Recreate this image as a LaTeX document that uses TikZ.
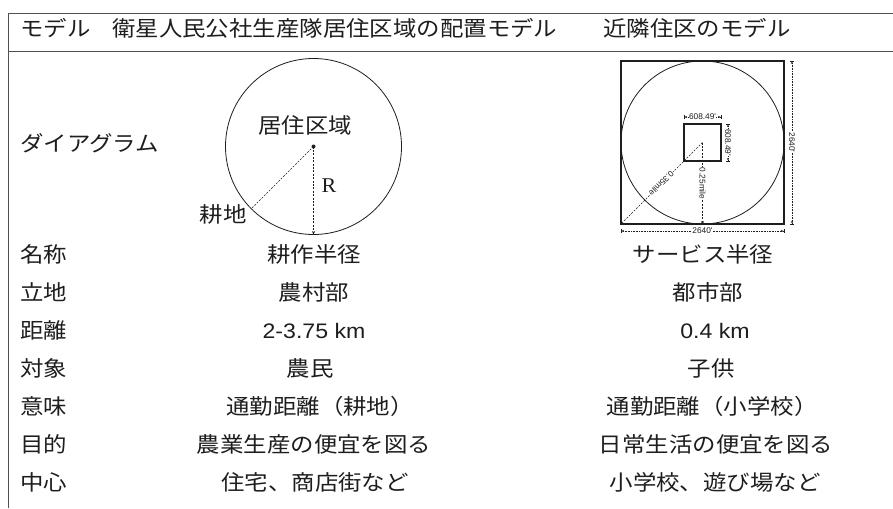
\documentclass[tikz,border=0pt]{standalone}
\usepackage{fontspec}
\usepackage{graphicx}
\setmainfont{Noto Sans CJK JP}[FakeStretch=1.1]
\newfontfamily\latinsans{Liberation Sans}[FakeStretch=1.1]
\newfontfamily\latinserif{Liberation Serif}[FakeStretch=1.05]
\newfontfamily\dimfont{Liberation Sans}
\usetikzlibrary{arrows.meta}
\definecolor{ink}{HTML}{1E1E1E}
\definecolor{rulec}{HTML}{505050}
\begin{document}
\begin{tikzpicture}[x=1pt,y=-1pt,
  txt/.style={inner sep=0pt, text height=0.88em, text depth=0.12em,
              font=\fontsize{21.3}{24}\selectfont, text=ink},
  lab/.style={txt, anchor=west},
  val/.style={txt, anchor=center},
  num/.style={txt, font=\fontsize{21}{24}\selectfont\latinsans},
  outl/.style={draw=ink, line width=0.8pt},
  dsh/.style={draw=ink, line width=0.6pt, dash pattern=on 2pt off 1.4pt},
  dimline/.style={draw=ink, line width=0.5pt, dash pattern=on 0.8pt off 0.8pt,
     {Bar[width=4pt]Stealth[length=2.6pt,width=2.2pt]}-{Stealth[length=2.6pt,width=2.2pt]Bar[width=4pt]}},
  dimlab/.style={fill=white, inner sep=0.5pt, font=\fontsize{8.3}{9}\dimfont, text=ink},
  tip/.style={-{Stealth[length=3.5pt,width=3pt]}}
]
\useasboundingbox (0,0) rectangle (893,508);
\fill[white] (0,0) rectangle (893,508);

% table rules
\draw[rulec, line width=1pt] (8,14) -- (893,14);
\draw[rulec, line width=1pt] (8,14) -- (8,508);
\draw[rulec, line width=1.8pt] (8,51.5) -- (893,51.5);

% header
\node[lab] (h1) at (20,33) {モデル};
\node[lab] (h2) at (112,33) {衛星人民公社生産隊居住区域の配置モデル};
\node[lab] (h3) at (603,33) {近隣住区のモデル};

% row labels
\node[lab] (r0) at (20,148) {ダイアグラム};
\node[lab] (r1) at (20,259) {名称};
\node[lab] (r2) at (20,297) {立地};
\node[lab] (r3) at (20,335) {距離};
\node[lab] (r4) at (20,373) {対象};
\node[lab] (r5) at (20,411) {意味};
\node[lab] (r6) at (20,449) {目的};
\node[lab] (r7) at (20,487) {中心};

% left column values
\node[val] (a1) at (314,259) {耕作半径};
\node[val] (a2) at (314,297) {農村部};
\node[num] (a3) at (314,335) {2-3.75 km};
\node[val] (a4) at (310,373) {農民};
\node[val] (a5) at (320,411) {通勤距離（耕地）};
\node[val] (a6) at (314,449) {農業生産の便宜を図る};
\node[val] (a7) at (315,487) {住宅、商店街など};

% right column values
\node[val] (b1) at (703,259) {サービス半径};
\node[val] (b2) at (708,297) {都市部};
\node[num] (b3) at (715,335) {0.4 km};
\node[val] (b4) at (711,373) {子供};
\node[val] (b5) at (712,411) {通勤距離（小学校）};
\node[val] (b6) at (716,449) {日常生活の便宜を図る};
\node[val] (b7) at (715,487) {小学校、遊び場など};

% left diagram
\coordinate (lc) at (313.5,146.5);
\coordinate (lbot) at (313.5,234.5);
\coordinate (lfield) at (251.3,208.7);
\draw[outl] (lc) circle[radius=88];
\fill[ink] (lc) circle[radius=2];
\draw[dsh] (lc) -- (lfield);
\draw[dsh, tip] (lc) -- (lbot);
\node[val] (kyoju) at (305,130) {居住区域};
\node[val] (kochi) at (223,219) {耕地};
\node[txt, font=\fontsize{21}{24}\latinserif] (R) at (329,189) {R};

% right diagram
\coordinate (rc) at (702.5,142.5);
\node[outl, line width=1.2pt, minimum width=163pt, minimum height=163pt, inner sep=0pt] (osq) at (rc) {};
\draw[outl] (rc) circle[radius=81.5];
\node[outl, line width=1.1pt, minimum width=37pt, minimum height=37pt, inner sep=0pt] (isq) at (rc) {};
\draw[dsh, line width=0.5pt, tip] (rc) -- (osq.south west)
   node[dimlab, pos=0.5, rotate=-135] (m35) {0.35mile};
\draw[dsh, line width=0.7pt, tip] (rc) -- (osq.south)
   node[dimlab, pos=0.5, rotate=-90] (m25) {0.25mile};

% dimension lines
\coordinate (d1a) at (684,117); \coordinate (d1b) at (721,117);
\coordinate (d2a) at (728,124); \coordinate (d2b) at (728,161);
\coordinate (d3a) at (792,61);  \coordinate (d3b) at (792,224);
\coordinate (d4a) at (621,231); \coordinate (d4b) at (784,231);
\draw[dimline] (d1a) -- (d1b) node[dimlab, midway] (t1) {608.49'};
\draw[dimline] (d2a) -- (d2b) node[dimlab, midway, rotate=-90] (t2) {608.49'};
\draw[dimline] (d3a) -- (d3b) node[dimlab, midway, rotate=-90] (t3) {2640'};
\draw[dimline] (d4a) -- (d4b) node[dimlab, midway] (t4) {2640'};
\end{tikzpicture}
\end{document}
